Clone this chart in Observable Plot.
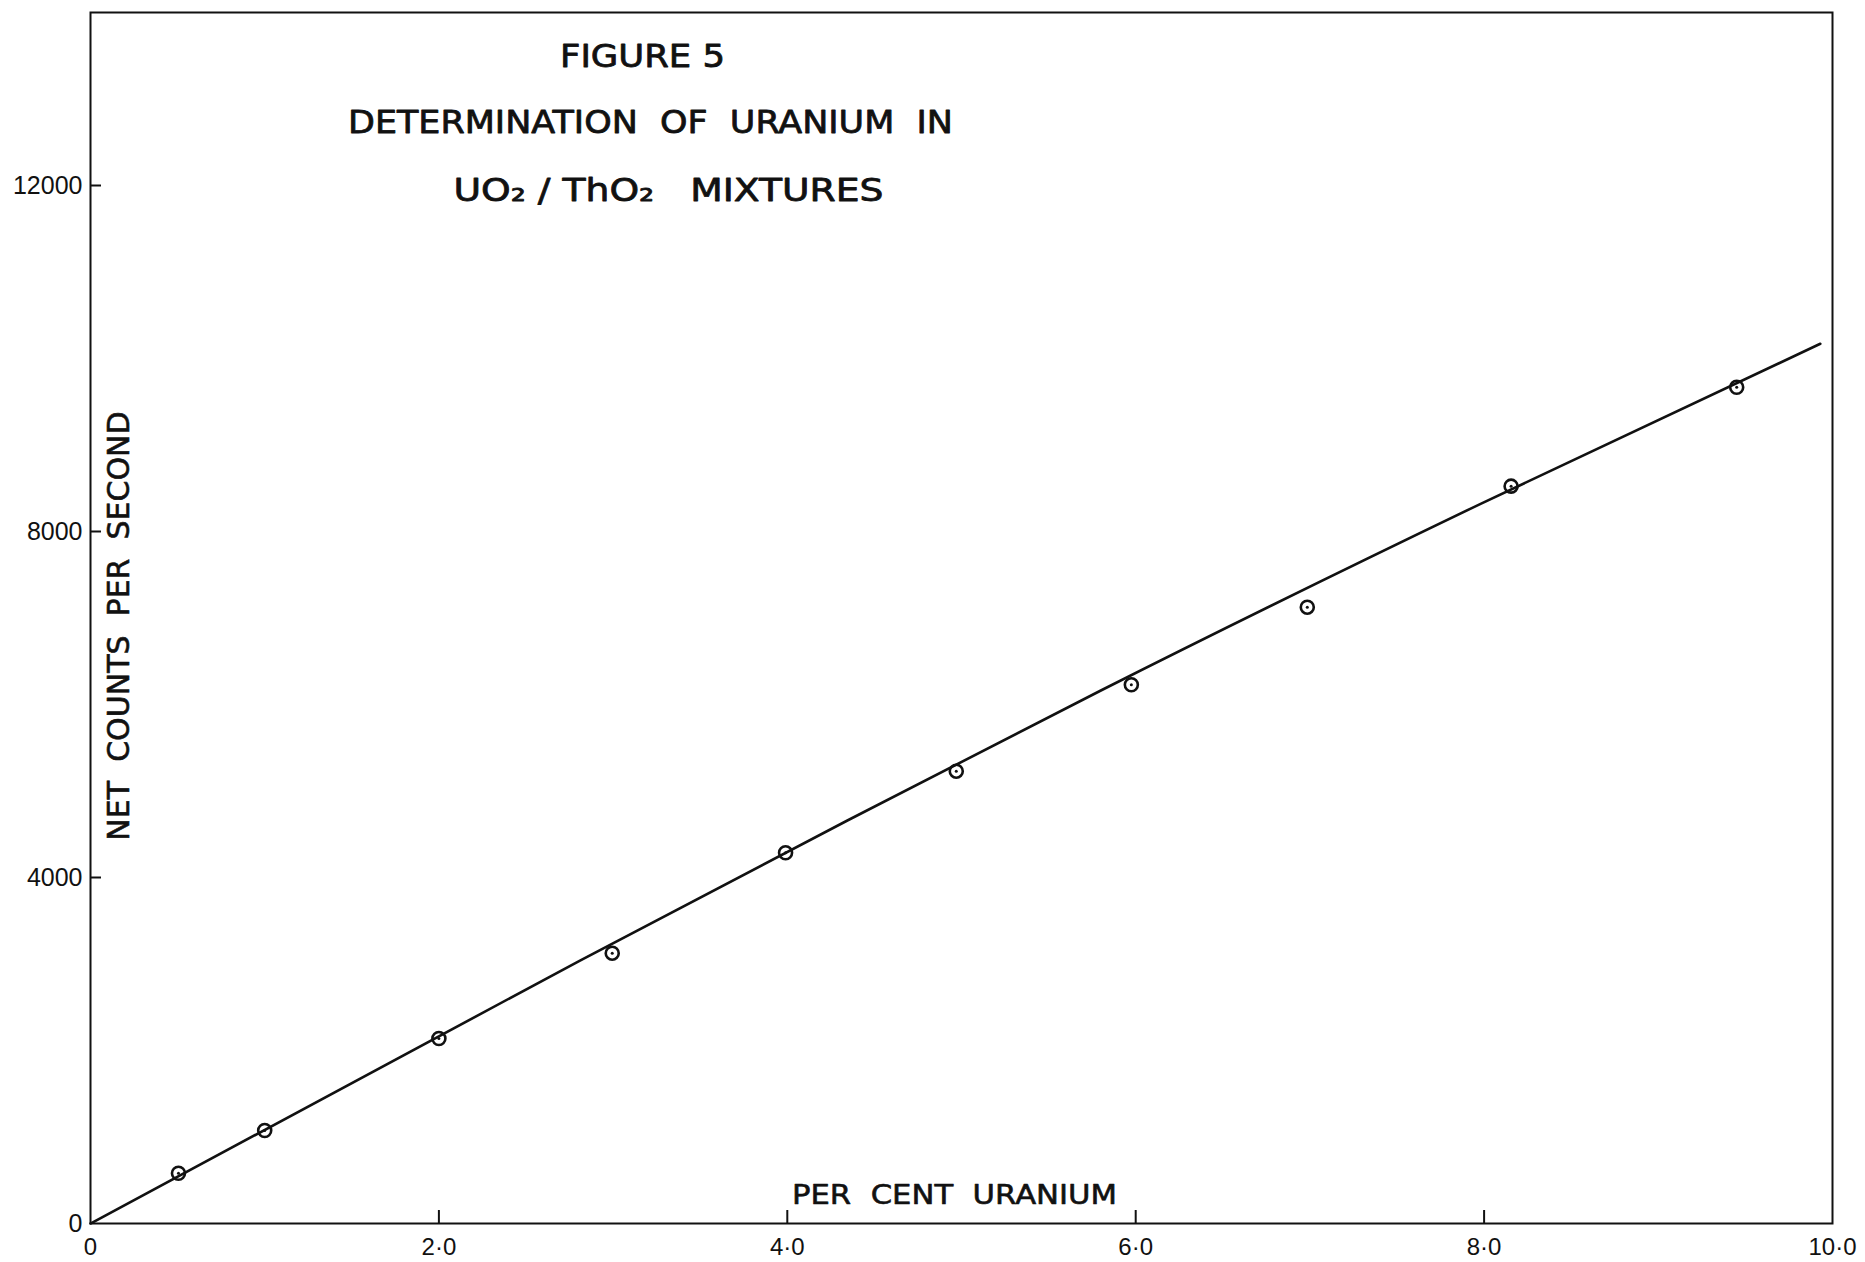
<!DOCTYPE html>
<html><head><meta charset="utf-8">
<script src="https://cdn.jsdelivr.net/npm/d3@7"></script>
<script src="https://cdn.jsdelivr.net/npm/@observablehq/plot@0.6"></script>
<style>
html,body{margin:0;padding:0;background:#fff;}
svg text{white-space:pre;}
</style></head><body><div id="chart"></div>
<script>
// Measured points (per cent uranium vs net counts per second)
const percentUranium = [0.505, 1.0, 2.0, 2.995, 3.99, 4.97, 5.975, 6.985, 8.155, 9.45];
const netCounts = [581, 1075, 2139, 3125, 4286, 5229, 6228, 7125, 8524, 9668];
// Hand-drawn calibration curve, read at several places along it
const curvePercent = [0, 2.81, 4.345, 5.80, 7.98, 9.93];
const curveCounts = [0, 3040, 4659, 6162, 8320, 10170];
// Ticks
const xTicks = [0, 2, 4, 6, 8, 10];
const yTicks = [0, 4000, 8000, 12000];
// Texts
const titleLines = ["FIGURE 5", "DETERMINATION  OF  URANIUM  IN", "UO₂ / ThO₂   MIXTURES"];
const xLabel = "PER  CENT  URANIUM";
const yLabel = "NET  COUNTS  PER  SECOND";

const points = percentUranium.map((x, i) => ({x, y: netCounts[i]}));
const curve = curvePercent.map((x, i) => ({x, y: curveCounts[i]}));
const fmtX = d => d === 0 ? "0" : d.toFixed(1).replace(".", "·");
const ink = "#111";
const titleFont = "'DejaVu Sans', sans-serif";

const plot = Plot.plot({
  width: 1865, height: 1262,
  marginLeft: 90, marginRight: 33, marginTop: 12, marginBottom: 39,
  style: {fontFamily: "'Liberation Sans', sans-serif", fontSize: "25px", color: ink, background: "#fff"},
  x: {domain: [0, 10]},
  y: {domain: [0, 14000]},
  marks: [
    Plot.frame({stroke: ink, strokeWidth: 2}),
    Plot.axisX(xTicks, {tickSize: 0, tickPadding: 14, tickFormat: fmtX, fontSize: 24, label: null}),
    Plot.axisY(yTicks, {tickSize: 0, tickPadding: 8, tickFormat: d => String(d), fontSize: 25, label: null}),
    Plot.ruleX(xTicks.slice(1, -1), {x: d => d, y1: 0, y2: 150, stroke: ink, strokeWidth: 2}),
    Plot.ruleY(yTicks.slice(1), {y: d => d, x1: 0, x2: 0.063, stroke: ink, strokeWidth: 2}),
    Plot.line(curve, {x: "x", y: "y", curve: "monotone-x", stroke: ink, strokeWidth: 2.6}),
    Plot.dot(points, {x: "x", y: "y", r: 6.5, stroke: ink, strokeWidth: 2.6, fill: "none"}),
    Plot.dot(points, {x: "x", y: "y", r: 1.5, fill: ink, stroke: null}),
    Plot.text([titleLines[0]], {text: d => d, frameAnchor: "top", lineAnchor: "middle", textAnchor: "middle", dx: -319, dy: 44, fontFamily: titleFont, fontSize: 32, fill: ink, stroke: ink, strokeWidth: 0.8}),
    Plot.text([titleLines[1]], {text: d => d, frameAnchor: "top", lineAnchor: "middle", textAnchor: "middle", dx: -311, dy: 110, fontFamily: titleFont, fontSize: 32, fill: ink, stroke: ink, strokeWidth: 0.8}),
    Plot.text([titleLines[2]], {text: d => d, frameAnchor: "top", lineAnchor: "middle", textAnchor: "middle", dx: -293, dy: 178, fontFamily: titleFont, fontSize: 32, fill: ink, stroke: ink, strokeWidth: 0.8}),
    Plot.text([xLabel], {text: d => d, frameAnchor: "bottom", lineAnchor: "middle", textAnchor: "middle", dx: -7, dy: -28, fontFamily: titleFont, fontSize: 27, fill: ink, stroke: ink, strokeWidth: 0.6}),
    Plot.text([yLabel], {text: d => d, frameAnchor: "left", lineAnchor: "middle", textAnchor: "middle", rotate: -90, dx: 29, dy: 8, fontFamily: titleFont, fontSize: 30, fill: ink, stroke: ink, strokeWidth: 0.6})
  ]
});
document.getElementById("chart").appendChild(plot);

// Fit the horizontal lettering widths to the stencil lettering of the original
const widths = new Map([
  [titleLines[0], 165], [titleLines[1], 605], [titleLines[2], 430], [xLabel, 325]
]);
plot.querySelectorAll("text").forEach(t => {
  const w = widths.get(t.textContent);
  if (w) { t.setAttribute("textLength", w); t.setAttribute("lengthAdjust", "spacingAndGlyphs"); }
});
</script></body></html>
